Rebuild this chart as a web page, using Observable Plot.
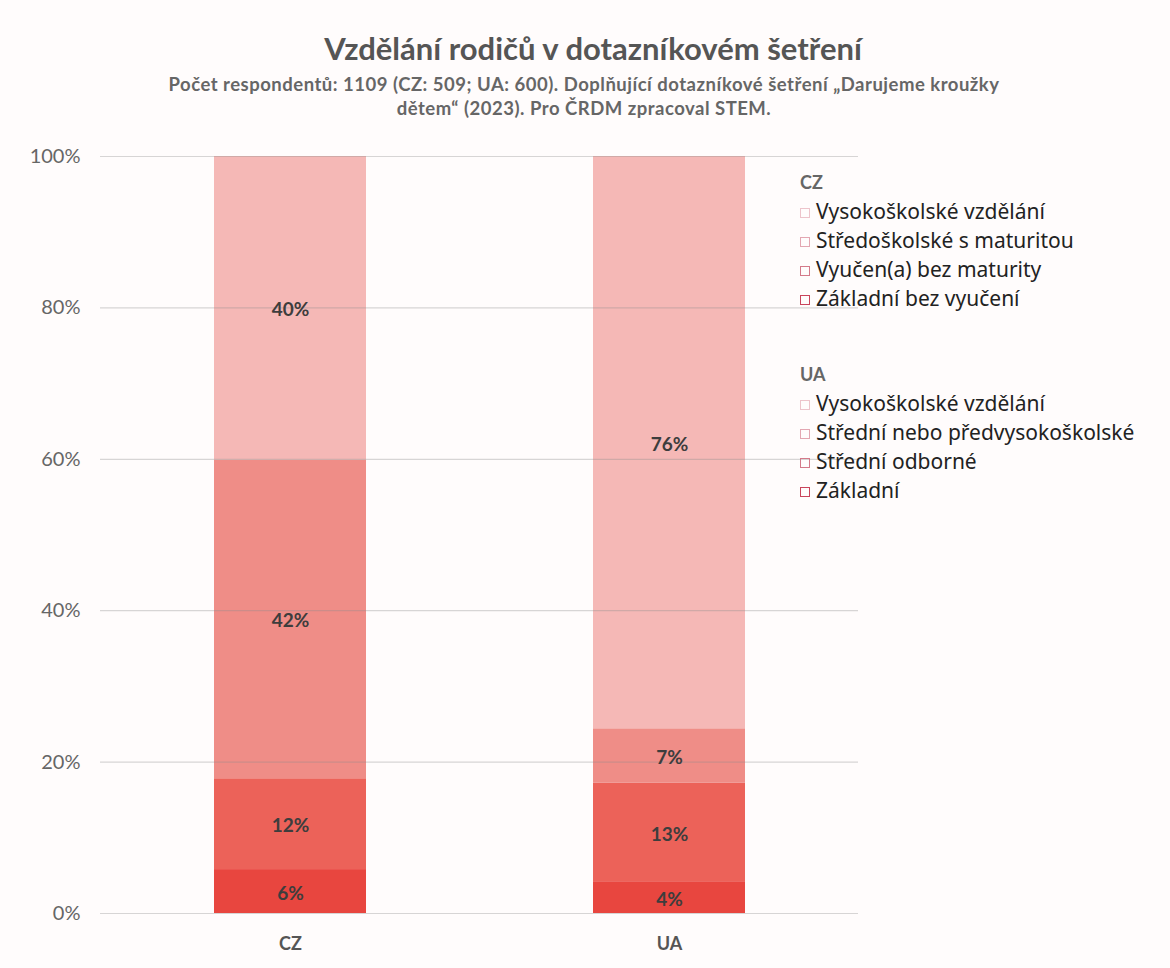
<!DOCTYPE html>
<html>
<head>
<meta charset="utf-8">
<script src="https://cdn.jsdelivr.net/npm/d3@7"></script>
<script src="https://cdn.jsdelivr.net/npm/@observablehq/plot@0.6"></script>
<style>
  html, body { margin: 0; padding: 0; background: #fffcfc; }
  #wrap { position: relative; width: 1170px; height: 968px; overflow: hidden; font-family: Lato, "Open Sans", sans-serif; }
  #title { position: absolute; top: 29px; left: 0; width: 1186px; text-align: center; font-weight: 700; font-size: 31px; color: #555; }
  #subtitle { position: absolute; top: 72px; left: 0; width: 1168px; text-align: center; font-weight: 700; font-size: 18.5px; letter-spacing: 0.5px; color: #666; line-height: 24px; }
  #chart { position: absolute; top: 130px; left: 0; }
  #legend { position: absolute; top: 167px; left: 800px; font-family: "Noto Sans", sans-serif; font-size: 21px; color: #222; }
  .lh { font-weight: 700; color: #666; font-size: 18px; height: 30px; line-height: 30px; font-family: Lato, sans-serif; }
  .li { height: 29px; line-height: 29px; white-space: nowrap; }
  .sw { display: inline-block; width: 8px; height: 8px; border: 1.5px solid; margin-right: 6px; vertical-align: 1px; }
  .gap { height: 46px; }
</style>
</head>
<body>
<div id="wrap">
  <div id="title"></div>
  <div id="subtitle"></div>
  <div id="chart"></div>
  <div id="legend"></div>
</div>
<script>
const titleText = "Vzdělání rodičů v dotazníkovém šetření";
const subtitleLines = [
  "Počet respondentů: 1109 (CZ: 509; UA: 600). Doplňující dotazníkové šetření „Darujeme kroužky",
  "dětem“ (2023). Pro ČRDM zpracoval STEM."
];
const countries = ["CZ", "UA"];
// levels from bottom (lowest) to top (highest)
const czLevels = ["Základní bez vyučení", "Vyučen(a) bez maturity", "Středoškolské s maturitou", "Vysokoškolské vzdělání"];
const uaLevels = ["Základní", "Střední odborné", "Střední nebo předvysokoškolské", "Vysokoškolské vzdělání"];
const czValues = [5.8, 12.0, 42.1, 40.1];
const uaValues = [4.2, 13.0, 7.2, 75.6];
const yTicks = [0, 20, 40, 60, 80, 100];
const palette = ["#e8463f", "#ec6259", "#ef8d87", "#f5b8b6"];
const legendStroke = ["#c9455c", "#d47a8a", "#e3a7b2", "#edc4cb"];

document.getElementById("title").textContent = titleText;
document.getElementById("subtitle").innerHTML = subtitleLines.map(s => `<div>${s}</div>`).join("");

const rows = [];
czLevels.forEach((l, i) => rows.push({country: "CZ", rank: i, level: l, value: czValues[i]}));
uaLevels.forEach((l, i) => rows.push({country: "UA", rank: i, level: l, value: uaValues[i]}));

const chart = Plot.plot({
  width: 1170,
  height: 838,
  marginTop: 26,
  marginBottom: 55,
  marginLeft: 100,
  marginRight: 312,
  style: {background: "transparent", fontFamily: "Lato, 'Open Sans', sans-serif"},
  x: {domain: countries, paddingInner: 0.6, paddingOuter: 0.3, label: null, tickSize: 0, tickPadding: 24},
  y: {domain: [0, 100], ticks: yTicks, tickFormat: d => d + "%", label: null, tickSize: 0, tickPadding: 20},
  color: {type: "ordinal", domain: [0, 1, 2, 3], range: palette},
  marks: [
    Plot.barY(rows, {x: "country", y: "value", fill: "rank", order: null}),
    Plot.ruleY(yTicks, {stroke: "#8c8c8c", strokeOpacity: 0.35, strokeWidth: 1.2}),
    Plot.text(rows, Plot.stackY({x: "country", y: "value", order: null, text: d => Math.round(d.value) + "%",
      fill: "#3d3d3d", fontWeight: 700, fontSize: 19, dy: 2}))
  ]
});
// style axes
chart.querySelectorAll('g[aria-label="y-axis tick label"]').forEach(e => { e.setAttribute("font-size", "20"); e.setAttribute("fill", "#666"); });
chart.querySelectorAll('g[aria-label="x-axis tick label"]').forEach(e => { e.setAttribute("font-size", "18"); e.setAttribute("font-weight", "700"); e.setAttribute("fill", "#555"); });
document.getElementById("chart").appendChild(chart);

// legend
const leg = document.getElementById("legend");
function block(head, levels) {
  let h = `<div class="lh">${head}</div>`;
  for (let i = levels.length - 1; i >= 0; i--) {
    h += `<div class="li"><span class="sw" style="border-color:${legendStroke[i]}"></span>${levels[i]}</div>`;
  }
  return h;
}
leg.innerHTML = block("CZ", czLevels) + `<div class="gap"></div>` + block("UA", uaLevels);
</script>
</body>
</html>
